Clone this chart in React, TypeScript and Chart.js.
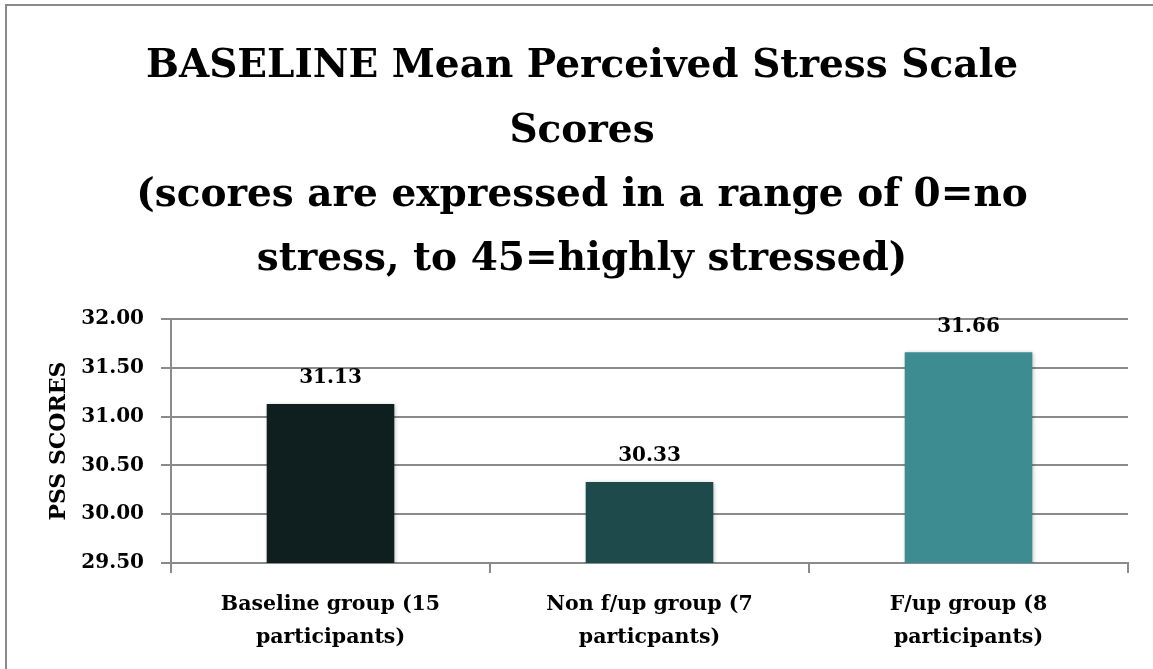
import React, { useEffect, useRef } from "react";
import { Chart, registerables } from "chart.js";

Chart.register(...registerables);

const categories: string[][] = [
  ["Baseline group (15", "participants)"],
  ["Non f/up group (7", "particpants)"],
  ["F/up group (8", "participants)"],
];
const scores: number[] = [31.13, 30.33, 31.66];
const barColors: string[] = ["#0f1e1e", "#1f4a4b", "#3d8c91"];
const titleLines: string[] = [
  "BASELINE Mean Perceived Stress Scale",
  "Scores",
  "(scores are expressed in a range of 0=no",
  "stress, to 45=highly stressed)",
];
const yAxisTitle = "PSS SCORES";
const yMin = 29.5;
const yMax = 32;
const yStep = 0.5;

const FONT = "'DejaVu Serif', serif";
const W = 1153;
const H = 669;
const PAD_LEFT = 36;

const borderPlugin = {
  id: "frameBorder",
  beforeDraw(chart: any) {
    const ctx = chart.ctx;
    ctx.save();
    ctx.fillStyle = "#ffffff";
    ctx.fillRect(0, 0, chart.width, chart.height);
    ctx.fillStyle = "#8a8a8a";
    ctx.fillRect(5, 4, 2, chart.height);
    ctx.fillRect(5, 4, chart.width, 2);
    ctx.restore();
  },
};

const shadowPlugin = {
  id: "barShadow",
  beforeDatasetsDraw(chart: any) {
    const ctx = chart.ctx;
    ctx.save();
    ctx.shadowColor = "rgba(0,0,0,0.28)";
    ctx.shadowBlur = 4;
    ctx.shadowOffsetX = 1;
    ctx.shadowOffsetY = 1;
  },
  afterDatasetsDraw(chart: any) {
    chart.ctx.restore();
  },
};

const valueLabelPlugin = {
  id: "valueLabels",
  afterDatasetsDraw(chart: any) {
    const ctx = chart.ctx;
    const meta = chart.getDatasetMeta(0);
    const data = chart.data.datasets[0].data as number[];
    ctx.save();
    ctx.font = `bold 20px ${FONT}`;
    ctx.fillStyle = "#000000";
    ctx.textAlign = "center";
    ctx.textBaseline = "middle";
    meta.data.forEach((bar: any, i: number) => {
      ctx.fillText(data[i].toFixed(2), bar.x, bar.y - 26);
    });
    ctx.restore();
  },
};

export default function App() {
  const ref = useRef<HTMLCanvasElement | null>(null);

  useEffect(() => {
    if (!ref.current) return;
    const chart = new Chart(ref.current, {
      type: "bar",
      data: {
        labels: categories,
        datasets: [
          {
            data: scores,
            backgroundColor: barColors,
            borderWidth: 0,
            barPercentage: 0.4,
            categoryPercentage: 1.0,
          },
        ],
      },
      options: {
        responsive: false,
        animation: false,
        layout: { padding: { left: PAD_LEFT, right: 25, top: 0, bottom: 0 } },
        plugins: {
          legend: { display: false },
          tooltip: { enabled: false },
          title: {
            display: true,
            text: titleLines,
            color: "#000000",
            font: { family: FONT, size: 39, weight: "bold", lineHeight: 64.3 / 39 },
            padding: { top: 35, bottom: 27 },
          },
        },
        scales: {
          x: {
            grid: {
              display: true,
              drawOnChartArea: false,
              drawTicks: true,
              tickLength: 10,
              color: "#8a8a8a",
              lineWidth: 2,
              offset: true,
            },
            border: { display: true, color: "#8a8a8a", width: 2 },
            ticks: {
              color: "#000000",
              font: { family: FONT, size: 20.5, weight: "bold", lineHeight: 33 / 20.5 },
              padding: 15,
              maxRotation: 0,
              autoSkip: false,
            },
            afterFit(scale: any) {
              scale.height = H - 563;
            },
          },
          y: {
            min: yMin,
            max: yMax,
            ticks: {
              stepSize: yStep,
              color: "#000000",
              font: { family: FONT, size: 20, weight: "bold" },
              padding: 17,
              callback: (v: any) => Number(v).toFixed(2),
            },
            grid: {
              color: "#8a8a8a",
              lineWidth: 2,
              drawTicks: true,
              tickLength: 10,
            },
            border: { display: true, color: "#8a8a8a", width: 2 },
            title: {
              display: true,
              text: yAxisTitle,
              color: "#000000",
              font: { family: FONT, size: 22, weight: "bold", lineHeight: 1.2 },
              padding: { top: 46 - PAD_LEFT, bottom: 0 },
            },
            afterFit(scale: any) {
              scale.width = 171 - PAD_LEFT;
            },
          },
        },
      },
      plugins: [borderPlugin, shadowPlugin, valueLabelPlugin],
    });
    return () => chart.destroy();
  }, []);

  return (
    <div style={{ position: "fixed", left: 0, top: 0, width: W, height: H, background: "#fff" }}>
      <canvas ref={ref} width={W} height={H} style={{ width: W, height: H, display: "block" }} />
    </div>
  );
}
